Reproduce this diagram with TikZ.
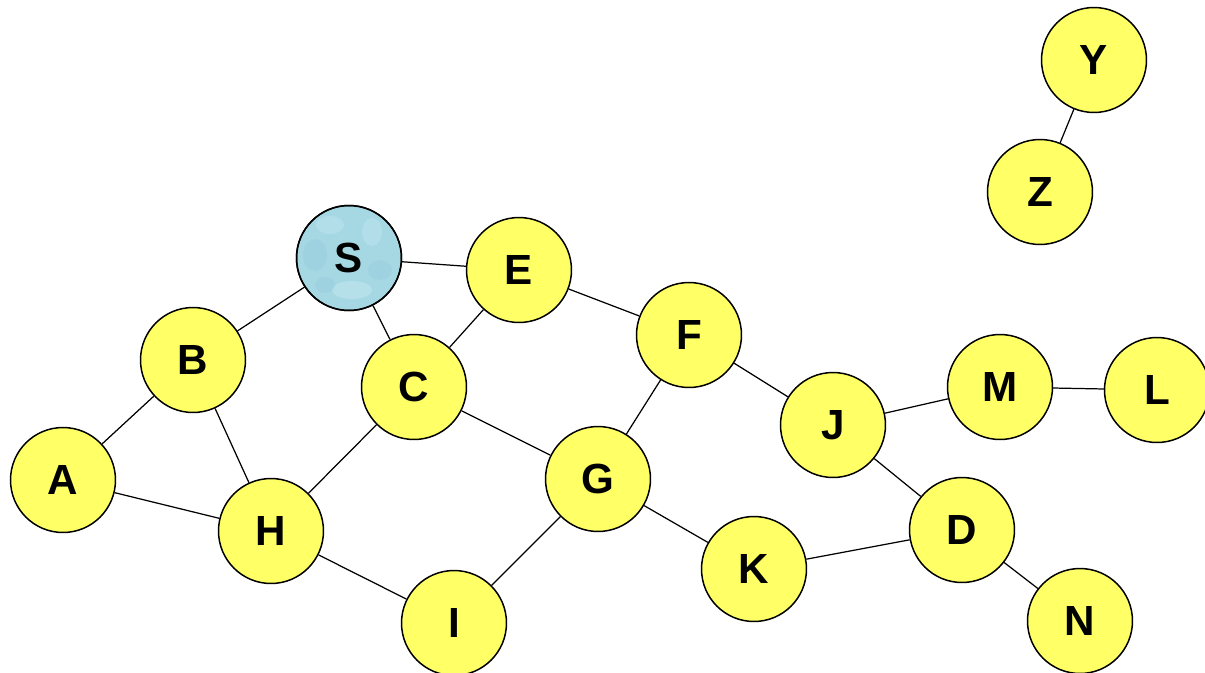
\documentclass[tikz,border=0pt]{standalone}
\usepackage{fontspec}
\setmainfont{Liberation Sans}
\definecolor{nodeyellow}{RGB}{255,255,102}
\definecolor{sblue}{RGB}{166,216,228}
\definecolor{sblueL}{RGB}{200,234,242}
\definecolor{sblueD}{RGB}{130,190,210}
\begin{document}
\begin{tikzpicture}[x=0.02cm,y=-0.02cm,
  vert/.style={circle,draw=black,line width=0.85pt,fill=nodeyellow,minimum size=2.1cm,inner sep=0pt,font=\fontsize{24}{24}\selectfont\bfseries},
  svert/.style={vert,fill=sblue},
  edge/.style={draw=black,line width=0.7pt}]
\useasboundingbox (0,0) rectangle (1205,673);
\node[vert] (Y) at (1094,60) {Y};
\node[vert] (Z) at (1040,192) {Z};
\node[svert] (S) at (349,258) {};
\node[vert] (E) at (519,270) {E};
\node[vert] (B) at (193,360) {B};
\node[vert] (C) at (414,387) {C};
\node[vert] (F) at (689,335) {F};
\node[vert] (J) at (833,425) {J};
\node[vert] (M) at (1000,387) {M};
\node[vert] (L) at (1157,390) {L};
\node[vert] (A) at (63,480) {A};
\node[vert] (H) at (271,531) {H};
\node[vert] (G) at (598,479) {G};
\node[vert] (K) at (754,569) {K};
\node[vert] (D) at (962,530) {D};
\node[vert] (N) at (1080,621) {N};
\node[vert] (I) at (454,623) {I};
% texture on S
\begin{scope}
  \clip (S.center) circle (51.5);
  \fill[sblueL,opacity=0.35] (330,225) ellipse (14 and 9);
  \fill[sblueD,opacity=0.2] (315,255) ellipse (12 and 16);
  \fill[sblueL,opacity=0.35] (372,232) ellipse (10 and 14);
  \fill[sblueD,opacity=0.2] (380,270) ellipse (12 and 10);
  \fill[sblueL,opacity=0.45] (352,290) ellipse (20 and 9);
  \fill[sblueD,opacity=0.2] (325,285) ellipse (10 and 8);
\end{scope}
\draw[line width=0.85pt] (S.center) circle (52.5);
\node[font=\fontsize{24}{24}\selectfont\bfseries] (Slabel) at (S.center) {S};
\path[edge] (Y) -- (Z);
\path[edge] (S) -- (E);
\path[edge] (S) -- (B);
\path[edge] (S) -- (C);
\path[edge] (E) -- (C);
\path[edge] (E) -- (F);
\path[edge] (B) -- (A);
\path[edge] (B) -- (H);
\path[edge] (A) -- (H);
\path[edge] (C) -- (H);
\path[edge] (C) -- (G);
\path[edge] (F) -- (G);
\path[edge] (F) -- (J);
\path[edge] (J) -- (M);
\path[edge] (M) -- (L);
\path[edge] (J) -- (D);
\path[edge] (G) -- (I);
\path[edge] (H) -- (I);
\path[edge] (G) -- (K);
\path[edge] (K) -- (D);
\path[edge] (D) -- (N);
\end{tikzpicture}
\end{document}
